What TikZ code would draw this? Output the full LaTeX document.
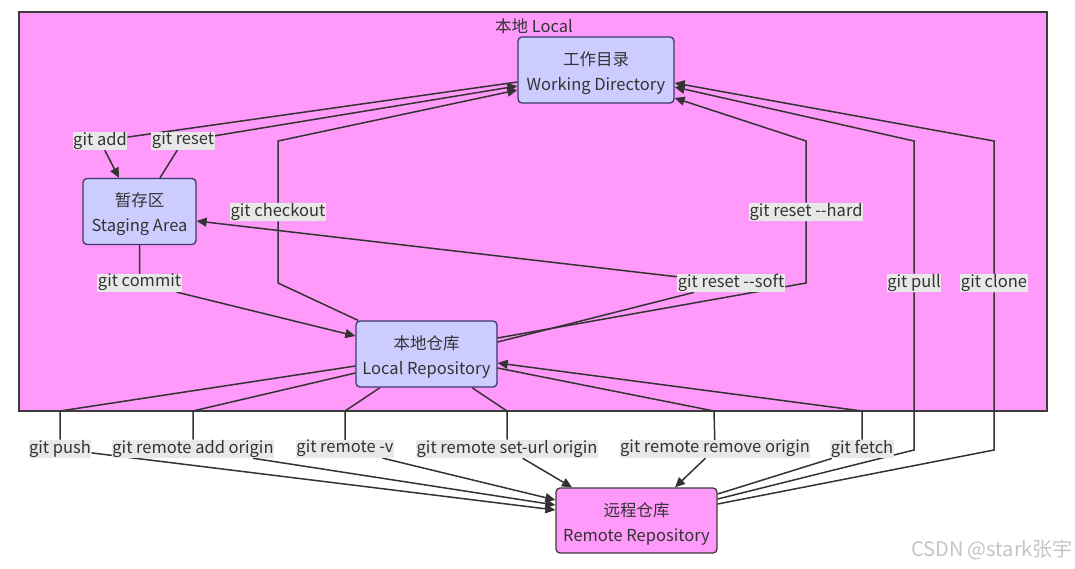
\documentclass[tikz,border=0pt]{standalone}
\usepackage{fontspec}
\setmainfont{Noto Sans CJK SC}
\usetikzlibrary{arrows.meta}
\definecolor{framefill}{HTML}{FF99FA}
\definecolor{framedraw}{HTML}{3C3C3C}
\definecolor{nodefill}{HTML}{CCCCFF}
\definecolor{nodedraw}{HTML}{3A3A6A}
\definecolor{labfill}{HTML}{E8E8E8}
\definecolor{txt}{HTML}{333333}
\definecolor{edge}{HTML}{333333}
\definecolor{wm}{HTML}{C4C4C4}
\pgfdeclarelayer{back}
\pgfdeclarelayer{edges}
\pgfsetlayers{back,edges,main}
\newcommand{\topstrut}{\rule{0pt}{20pt}}
\newcommand{\labstrut}{\rule[-5pt]{0pt}{15pt}}
\begin{document}
\begin{tikzpicture}[x=1pt,y=-1pt,
  font=\fontsize{16.5}{25}\selectfont, text=txt,
  box/.style={draw=nodedraw, fill=nodefill, rounded corners=4pt, line width=1.3pt, align=center, inner sep=0pt},
  lab/.style={fill=labfill, inner xsep=0.5pt, inner ysep=0pt, text=txt, font=\fontsize{16.5}{18}\selectfont, execute at begin node=\labstrut},
  con/.style={draw=edge, line width=1.5pt},
  arr/.style={con, -{Triangle[length=10pt,width=9pt]}}]
\useasboundingbox (0,0) rectangle (1075,568);

\begin{pgfonlayer}{back}
  \draw[fill=framefill, draw=framedraw, line width=1.3pt] (19,12) rectangle (1047,411);
\end{pgfonlayer}
\node (title) at (534,26) {本地 Local};

% main nodes
\node[box, minimum width=156pt, minimum height=66pt] (wd) at (596,70) {\topstrut 工作目录\\Working Directory};
\node[box, minimum width=113pt, minimum height=66pt] (sa) at (139.5,211.5) {\topstrut 暂存区\\Staging Area};
\node[box, minimum width=141pt, minimum height=66pt] (lr) at (426.5,354) {\topstrut 本地仓库\\Local Repository};
\node[box, fill=framefill, draw=framedraw, minimum width=161pt, minimum height=65pt] (rr) at (636.5,520.5) {\topstrut 远程仓库\\Remote Repository};

% labels
\node[lab] (ladd) at (100,141) {git add};
\node[lab] (lreset) at (183,141) {git reset};
\node[lab] (lcheckout) at (278,212) {git checkout};
\node[lab] (lcommit) at (139.5,283) {git commit};
\node[lab] (lsoft) at (731,283) {git reset -{}-soft};
\node[lab] (lhard) at (806,212) {git reset -{}-hard};
\node[lab] (lpull) at (914,283) {git pull};
\node[lab] (lclone) at (994,283) {git clone};
\node[lab] (lpush) at (60,449) {git push};
\node[lab] (laddo) at (193,449) {git remote add origin};
\node[lab] (lv) at (345,449) {git remote -v};
\node[lab] (lset) at (507,449) {git remote set-url origin};
\node[lab] (lrm) at (715,449) {git remote remove origin};
\node[lab] (lfetch) at (862,449) {git fetch};

% bend coordinates
\coordinate (ck1) at (278,283);
\coordinate (ck2) at (278,141);
\coordinate (hd1) at (806,283);
\coordinate (hd2) at (806,141);
\coordinate (pl1) at (914,450);
\coordinate (pl2) at (914,141);
\coordinate (cl1) at (994,450);
\coordinate (cl2) at (994,141);
\coordinate (ft1) at (862,411);
\coordinate (ps1) at (60,411);
\coordinate (ao1) at (193,411);
\coordinate (rv1) at (345,411);
\coordinate (su1) at (507,411);
\coordinate (rm1) at (714,411);

\begin{pgfonlayer}{edges}
  \draw[arr] (wd.west |- 0,82) -- (ladd) -- (sa.north -| 119,0);
  \draw[arr] (sa.north -| 160,0) -- (lreset) -- (wd.west |- 0,86);
  \draw[arr] (lr.north -| 358,0) -- (ck1) -- (lcheckout) -- (ck2) -- (wd.west |- 0,90);
  \draw[arr] (sa.south) -- (lcommit) -- (lr.west |- 0,336);
  \draw[arr] (lr.east |- 0,342) -- (lsoft) -- (sa.east |- 0,221);
  \draw[arr] (lr.east |- 0,338) -- (hd1) -- (lhard) -- (hd2) -- (wd.east |- 0,98);
  \draw[arr] (rr.east |- 0,499) -- (pl1) -- (lpull) -- (pl2) -- (wd.east |- 0,87);
  \draw[arr] (rr.east |- 0,504) -- (cl1) -- (lclone) -- (cl2) -- (wd.east |- 0,83);
  \draw[arr] (rr.east |- 0,494) -- (lfetch) -- (ft1) -- (lr.east |- 0,363);
  \draw[arr] (lr.west |- 0,366) -- (ps1) -- (lpush) -- (rr.west |- 0,510);
  \draw[arr] (lr.west |- 0,373) -- (ao1) -- (laddo) -- (rr.west |- 0,505);
  \draw[arr] (lr.south -| 380,0) -- (rv1) -- (lv) -- (rr.west |- 0,500);
  \draw[arr] (lr.south -| 472,0) -- (su1) -- (lset) -- (rr.north -| 572,0);
  \draw[arr] (lr.east |- 0,368) -- (rm1) -- (lrm) -- (rr.north -| 675,0);
\end{pgfonlayer}

\node[text=wm, font=\fontsize{20}{22}\selectfont] (wmark) at (992,550) {CSDN @stark张宇};
\end{tikzpicture}
\end{document}
